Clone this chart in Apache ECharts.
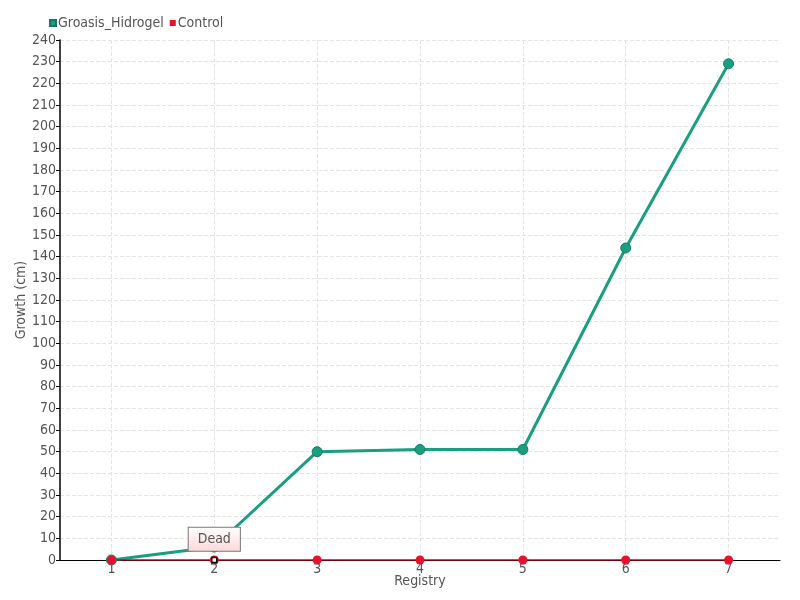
<!DOCTYPE html>
<html>
<head>
<meta charset="utf-8">
<script src="https://cdn.jsdelivr.net/npm/echarts@6/dist/echarts.min.js"></script>
<style>
  html, body { margin: 0; padding: 0; background: #fff; }
  #chart { width: 800px; height: 600px; }
</style>
</head>
<body>
<div id="chart"></div>
<script>
var registry = ['1', '2', '3', '4', '5', '6', '7']
var hidrogel = [0, 6, 50, 51, 51, 144, 229]
var control = [0, 0, 0, 0, 0, 0, 0]
var deadAt = { x: '2', y: 0, label: 'Dead' }

var font = '"DejaVu Sans Condensed", "Roboto Condensed", Roboto, sans-serif'
var textColor = '#555'

var chart = echarts.init(document.getElementById('chart'))
chart.setOption({
  animation: false,
  textStyle: { fontFamily: font },
  legend: {
    left: 44,
    top: 11,
    itemWidth: 6,
    itemHeight: 6,
    itemGap: 6,
    icon: 'rect',
    textStyle: { fontFamily: font, fontSize: 14, color: textColor, padding: [0, 0, 0, -3] },
    data: ['Groasis_Hidrogel', 'Control']
  },
  grid: { left: 60, right: 20, top: 40, bottom: 40 },
  xAxis: {
    type: 'category',
    data: registry,
    name: 'Registry',
    nameLocation: 'middle',
    nameGap: 14,
    nameMoveOverlap: false,
    nameTextStyle: { fontFamily: font, fontSize: 14, color: textColor },
    axisLine: { lineStyle: { color: '#000' } },
    axisTick: { alignWithLabel: true, length: 8, lineStyle: { color: '#555' } },
    axisLabel: { margin: 2, fontFamily: font, fontSize: 14, color: textColor },
    splitLine: { show: true, alignWithLabel: true, lineStyle: { type: 'dashed', color: '#e4e4e4' } }
  },
  yAxis: {
    type: 'value',
    min: 0,
    max: 240,
    interval: 10,
    name: 'Growth (cm)',
    nameLocation: 'middle',
    nameGap: 32,
    nameMoveOverlap: false,
    nameTextStyle: { fontFamily: font, fontSize: 14, color: textColor },
    axisLine: { show: true, lineStyle: { color: '#000', width: 1.5 } },
    axisTick: { show: true, length: 4, lineStyle: { color: '#000' } },
    axisLabel: { margin: 4, fontFamily: font, fontSize: 14, color: textColor },
    splitLine: { lineStyle: { type: 'dashed', color: '#e4e4e4' } }
  },
  series: [
    {
      name: 'Groasis_Hidrogel',
      type: 'line',
      data: hidrogel,
      symbol: 'circle',
      symbolSize: 10,
      itemStyle: { color: '#1a9e80', borderColor: '#137a61', borderWidth: 1 },
      lineStyle: { width: 3, color: '#1a9e80' }
    },
    {
      name: 'Control',
      type: 'line',
      data: control,
      symbol: 'circle',
      symbolSize: 9,
      itemStyle: { color: '#e8102a' },
      lineStyle: { width: 1.5, color: '#d0021b' },
      markPoint: {
        symbol: 'rect',
        symbolSize: 5,
        itemStyle: { color: '#fff', borderColor: '#000', borderWidth: 1.5 },
        label: {
          show: true,
          position: 'top',
          distance: 6,
          formatter: '{b}',
          fontFamily: font,
          fontSize: 14,
          color: '#555',
          padding: [5, 9, 4, 9],
          borderColor: '#777',
          borderWidth: 1,
          backgroundColor: {
            type: 'linear', x: 0, y: 0, x2: 0, y2: 1,
            colorStops: [{ offset: 0, color: '#fff' }, { offset: 1, color: '#fcd8d8' }]
          }
        },
        data: [{ name: deadAt.label, coord: [deadAt.x, deadAt.y] }]
      }
    }
  ]
})
</script>
</body>
</html>
